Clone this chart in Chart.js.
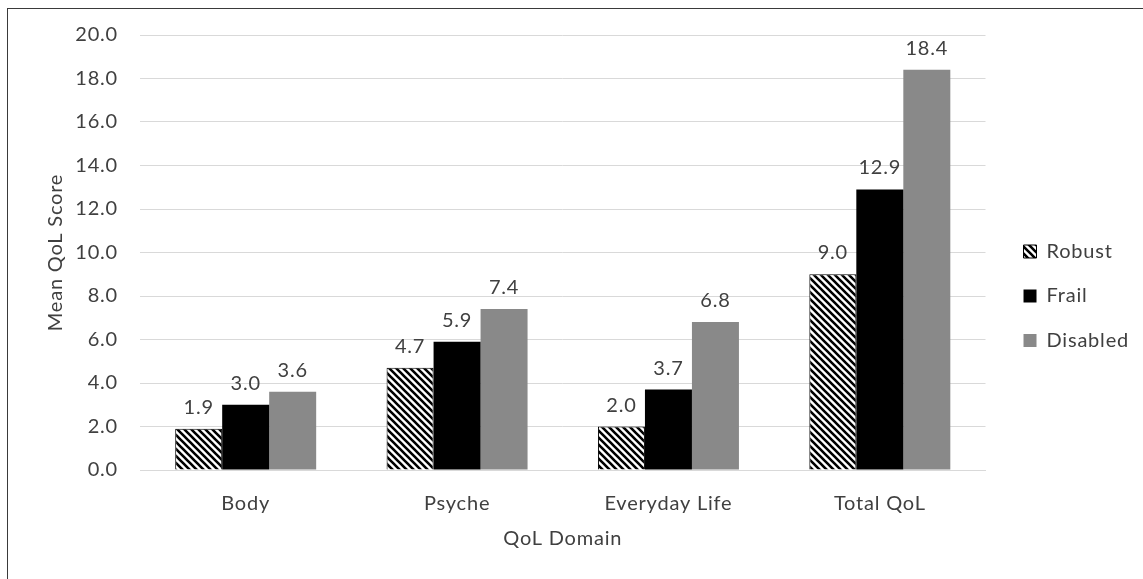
<!DOCTYPE html>
<html>
<head>
<meta charset="utf-8">
<script src="https://cdn.jsdelivr.net/npm/chart.js@4.4.1/dist/chart.umd.min.js"></script>
<style>
  html, body { margin: 0; padding: 0; background: #fff; }
  #wrap { position: relative; width: 1143px; height: 579px; overflow: hidden; }
  #frame { position: absolute; left: 7px; top: 8px; right: -2px; bottom: -2px; border-left: 1px solid #3a3a3a; border-top: 1px solid #3a3a3a; pointer-events: none; }
  canvas { position: absolute; left: 0; top: 0; }
</style>
</head>
<body>
<div id="wrap">
  <canvas id="c" width="1143" height="579"></canvas>
  <div id="frame"></div>
</div>
<script>
// QoL domains and mean scores by frailty group
const categories = ['Body', 'Psyche', 'Everyday Life', 'Total QoL'];
const robust = [1.9, 4.7, 2.0, 9.0];
const frail = [3.0, 5.9, 3.7, 12.9];
const disabled = [3.6, 7.4, 6.8, 18.4];
const seriesNames = ['Robust', 'Frail', 'Disabled'];
const yTicks = [0, 2, 4, 6, 8, 10, 12, 14, 16, 18, 20];

const FONT = "Lato, 'Open Sans', sans-serif";
const FS = 20;
const TXT = '#404040';

// diagonal black/white stripe fill
function stripePattern() {
  const s = 7;
  const p = document.createElement('canvas');
  p.width = s; p.height = s;
  const g = p.getContext('2d');
  g.fillStyle = '#fff';
  g.fillRect(0, 0, s, s);
  g.strokeStyle = '#000';
  g.lineWidth = 2.6;
  g.beginPath();
  for (let k = -2; k <= 2; k++) {
    g.moveTo(k * s - 1, -1);
    g.lineTo(k * s + s + 1, s + 1);
  }
  g.stroke();
  return g.createPattern(p, 'repeat');
}

const ctx = document.getElementById('c').getContext('2d');
const hatch = stripePattern();

// slightly looser text tracking for all chart text
const tracking = {
  id: 'tracking',
  afterInit(chart) { chart.ctx.letterSpacing = '0.8px'; }
};

const valueLabels = {
  id: 'valueLabels',
  afterDatasetsDraw(chart) {
    const c = chart.ctx;
    c.save();
    c.font = FS + 'px ' + FONT;
    c.fillStyle = TXT;
    c.textAlign = 'center';
    c.textBaseline = 'alphabetic';
    chart.data.datasets.forEach((ds, i) => {
      chart.getDatasetMeta(i).data.forEach((bar, j) => {
        c.fillText(ds.data[j].toFixed(1), bar.x, bar.y - 15);
      });
    });
    c.restore();
  }
};

// empty spacer axes used only to reserve room around the plot
const spacer = (pos, size) => ({
  type: 'linear',
  position: pos,
  display: true,
  grid: { display: false },
  border: { display: false },
  ticks: { display: false },
  afterFit(axis) {
    if (pos === 'top' || pos === 'bottom') axis.height = size; else axis.width = size;
  }
});

new Chart(ctx, {
  type: 'bar',
  data: {
    labels: categories,
    datasets: [
      { label: seriesNames[0], data: robust, backgroundColor: hatch, borderColor: '#000', borderWidth: 1 },
      { label: seriesNames[1], data: frail, backgroundColor: '#000000', borderWidth: 0 },
      { label: seriesNames[2], data: disabled, backgroundColor: '#898989', borderWidth: 0 }
    ]
  },
  options: {
    responsive: false,
    animation: false,
    devicePixelRatio: 1,
    layout: { padding: { left: 0, top: 13, right: 4, bottom: 0 } },
    datasets: { bar: { categoryPercentage: 0.667, barPercentage: 1.0 } },
    plugins: {
      tooltip: { enabled: false },
      legend: {
        position: 'right',
        align: 'center',
        labels: {
          font: { family: FONT, size: FS },
          color: TXT,
          boxWidth: 13,
          boxHeight: 13,
          padding: 24.5
        }
      }
    },
    scales: {
      x: {
        afterFit(axis) { axis.height = 109; },
        grid: { display: false },
        border: { color: '#d9d9d9' },
        ticks: { font: { family: FONT, size: FS }, color: TXT, padding: 14 },
        title: { display: true, text: 'QoL Domain', font: { family: FONT, size: FS }, color: TXT, padding: { top: 28, bottom: 28 } }
      },
      y: {
        min: 0, max: 20,
        afterFit(axis) { axis.width = 140; },
        afterBuildTicks(axis) { axis.ticks = yTicks.map(v => ({ value: v })); },
        grid: { color: '#d9d9d9', drawTicks: false },
        border: { display: false },
        ticks: { font: { family: FONT, size: FS }, color: TXT, padding: 22, callback: v => v.toFixed(1) },
        title: { display: true, text: 'Mean QoL Score', font: { family: FONT, size: FS }, color: TXT, padding: { top: 44, bottom: 44 } }
      },
      padTop: spacer('top', 22),
      padRight: spacer('right', 13.5)
    }
  },
  plugins: [tracking, valueLabels]
});
</script>
</body>
</html>
